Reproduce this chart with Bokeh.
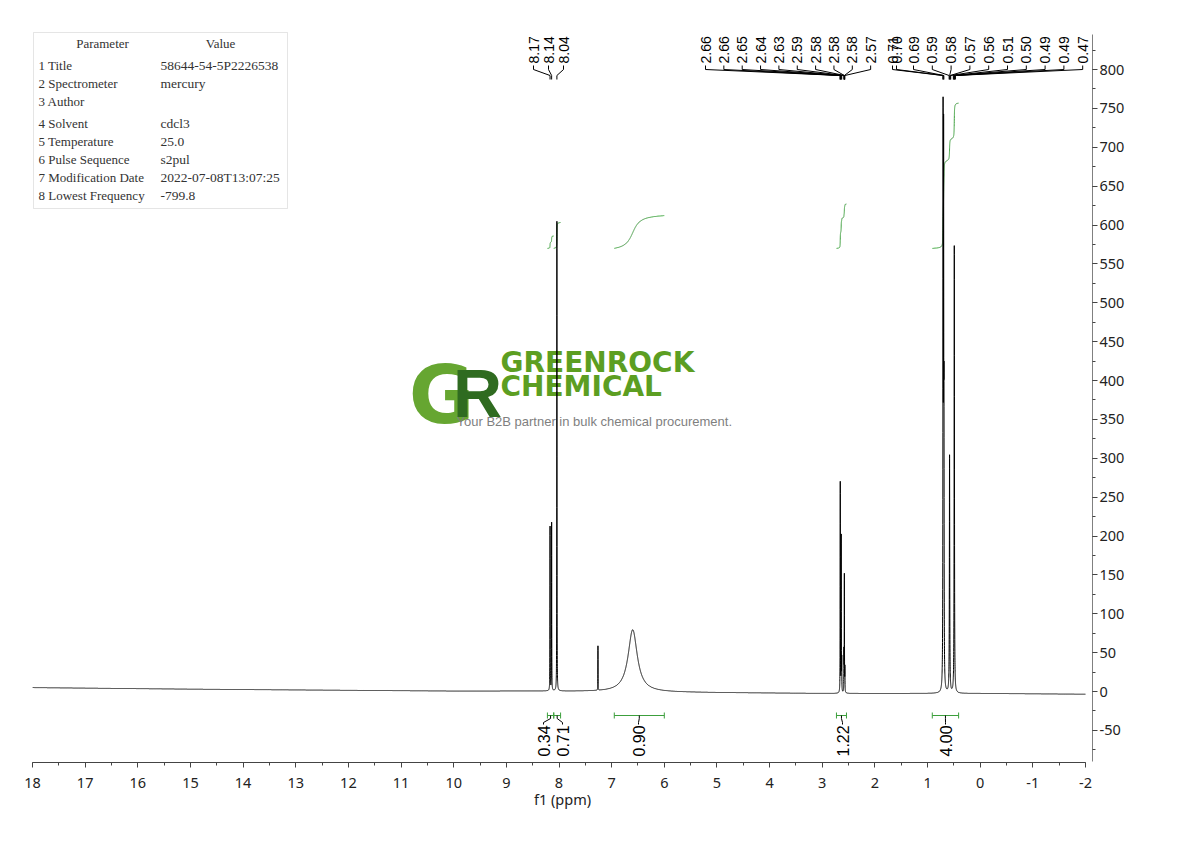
import numpy as np
from bokeh.plotting import figure
from bokeh.models import Range1d, SingleIntervalTicker, BoxAnnotation, PrintfTickFormatter
from bokeh.core.properties import value
from bokeh.embed import file_html
from bokeh.resources import INLINE

# ---------------- data ----------------
peak_ppm = [8.170, 8.140, 8.040, 7.260, 6.600,
            2.658, 2.640, 2.630, 2.588, 2.580, 2.570,
            0.705, 0.695, 0.688, 0.582, 0.492]
peak_height = [211, 216, 604, 57, 80,
               270, 200, 40, 50, 150, 30,
               705, 640, 300, 305, 575]
peak_fwhm = [0.004, 0.004, 0.004, 0.003, 0.21,
             0.004, 0.004, 0.004, 0.004, 0.004, 0.004,
             0.006, 0.006, 0.006, 0.008, 0.007]

baseline_ppm = [18, 15, 12, 10, 8.5, 5, 3, 0, -2]
baseline_val = [5, 3, 1.5, 0.5, 0.5, -1.5, -2.5, -2.5, -3.5]

top_labels_1 = ["8.17", "8.14", "8.04"]
top_labels_2 = ["2.66", "2.66", "2.65", "2.64", "2.63", "2.59", "2.58", "2.58", "2.58", "2.57",
                "0.71", "0.70",
                "0.69", "0.59", "0.58", "0.57", "0.56", "0.51", "0.50", "0.49", "0.49", "0.47"]

integral_from = [8.22, 8.10, 6.95, 2.73, 0.91]
integral_to = [8.10, 7.97, 6.00, 2.54, 0.41]
integral_value = [0.34, 0.71, 0.90, 1.22, 4.00]
integral_text = ["0.34", "0.71", "0.90", "1.22", "4.00"]

table_keys = ["1 Title", "2 Spectrometer", "3 Author", "4 Solvent", "5 Temperature",
              "6 Pulse Sequence", "7 Modification Date", "8 Lowest Frequency"]
table_values = ["58644-54-5P2226538", "mercury", "", "cdcl3", "25.0",
                "s2pul", "2022-07-08T13:07:25", "-799.8"]

# ---------------- layout (page pixels) ----------------
FRAME_LEFT = 32
FRAME_TOP = 30
FRAME_W = 1060
FRAME_H = 732
PX_PER_PPM = 52.65
ZERO_PY = 691
PX_PER_UNIT = 0.7775


def xpx(px):
    return 18 - (px - FRAME_LEFT) / PX_PER_PPM


def ypx(py):
    return (ZERO_PY - py) / PX_PER_UNIT


p = figure(frame_width=FRAME_W, frame_height=FRAME_H,
           x_range=Range1d(18, xpx(FRAME_LEFT + FRAME_W)),
           y_range=Range1d(ypx(FRAME_TOP + FRAME_H), ypx(FRAME_TOP)),
           y_axis_location="right", output_backend="svg", toolbar_location=None,
           min_border_left=FRAME_LEFT, min_border_top=FRAME_TOP,
           min_border_right=5, min_border_bottom=5)
p.grid.visible = False
p.outline_line_color = None
p.background_fill_color = "white"

# ---------------- watermark ----------------
p.text(x=[xpx(441)], y=[ypx(395)], text=["G"], text_align="center", text_baseline="alphabetic",
       text_font=value("DejaVu Sans"), text_font_style="bold", text_font_size="80px",
       text_color="#66a631")
p.text(x=[xpx(477)], y=[ypx(392)], text=["R"], text_align="center", text_baseline="alphabetic",
       text_font=value("Liberation Sans"), text_font_style="bold", text_font_size="68px",
       text_color="#2f6b20")
p.text(x=[xpx(500), xpx(500)], y=[ypx(362), ypx(386)], text=["GREENROCK", "CHEMICAL"],
       text_align="left", text_baseline="alphabetic",
       text_font=value("DejaVu Sans"), text_font_style="bold", text_font_size="28px",
       text_color="#5c9e22")
p.text(x=[xpx(456)], y=[ypx(421)], text=["Your B2B partner in bulk chemical procurement."],
       text_align="left", text_baseline="middle",
       text_font=value("Liberation Sans"), text_font_size="13px", text_color="#7f7f7f")

# ---------------- spectrum ----------------
ppm = np.linspace(18, -2, 40001)
base = np.interp(ppm, baseline_ppm[::-1], baseline_val[::-1])
inten = base.copy()
for c, h, w in zip(peak_ppm, peak_height, peak_fwhm):
    inten += h / (1 + ((ppm - c) / (w / 2)) ** 2)

# integrals
INT_BASE = 570
INT_SCALE = 46.7
GREEN = "#3c9f3c"
for a, b, v in zip(integral_from, integral_to, integral_value):
    m = (ppm <= a) & (ppm >= b)
    cum = np.cumsum(inten[m] - base[m])
    p.line(ppm[m], INT_BASE + cum / cum[-1] * v * INT_SCALE, line_color=GREEN, line_width=1)

p.line(ppm, inten, line_color="black", line_width=1)

# ---------------- peak labels (top) ----------------
lab1_px = [533, 548, 563]
lab2_px = [705 + 18.35 * i for i in range(10)] + [892, 896] + [913 + 18.8 * j for j in range(10)]
labels = top_labels_1 + top_labels_2
lab_px = lab1_px + lab2_px
p.text(x=[xpx(v) for v in lab_px], y=[ypx(63)] * len(labels), text=labels, angle=np.pi / 2,
       text_align="left", text_baseline="middle", text_font=value("Liberation Sans"),
       text_font_size="14px", text_color="black")
xs, ys = [], []
for t, lx in zip(labels, lab_px):
    pk = float(t)
    xs.append([xpx(lx), xpx(lx), pk, pk])
    ys.append([ypx(65), ypx(69), ypx(75), ypx(79)])
p.multi_line(xs, ys, line_color="black", line_width=1)

# ---------------- integral brackets (bottom) ----------------
int_lab_px = [543, 562, 638, 842, 945]
bx, by, cxs, cys = [], [], [], []
for a, b, lx in zip(integral_from, integral_to, int_lab_px):
    bx += [[a, a], [a, b], [b, b]]
    by += [[ypx(712), ypx(718)], [ypx(715), ypx(715)], [ypx(712), ypx(718)]]
    cxm = (a + b) / 2
    cxs.append([cxm, cxm, xpx(lx), xpx(lx)])
    cys.append([ypx(715), ypx(718), ypx(722), ypx(724)])
p.multi_line(bx, by, line_color=GREEN, line_width=1)
p.multi_line(cxs, cys, line_color="black", line_width=1)
p.text(x=[xpx(v) for v in int_lab_px], y=[ypx(756)] * len(integral_text), text=integral_text,
       angle=np.pi / 2, text_align="left", text_baseline="middle",
       text_font=value("Liberation Sans"), text_font_size="16px", text_color="black")

# ---------------- parameter table ----------------
p.add_layout(BoxAnnotation(left=xpx(33), right=xpx(287), top=ypx(32), bottom=ypx(208),
                           fill_alpha=0.0, line_color="#a8a8a8", line_width=1,
                           level="underlay"))
row_py = [65, 83, 101, 123, 141, 159, 177, 195]
tfont = value("Liberation Serif")
p.text(x=[xpx(102), xpx(220)], y=[ypx(43), ypx(43)], text=["Parameter", "Value"],
       text_align="center", text_baseline="middle", text_font=tfont,
       text_font_size="13px", text_color="#333333")
p.text(x=[xpx(38)] * len(table_keys), y=[ypx(v) for v in row_py], text=table_keys,
       text_align="left", text_baseline="middle", text_font=tfont,
       text_font_size="13px", text_color="#333333")
p.text(x=[xpx(160)] * len(table_values), y=[ypx(v) for v in row_py], text=table_values,
       text_align="left", text_baseline="middle", text_font=tfont,
       text_font_size="13.5px", text_color="#333333")

# ---------------- axes ----------------
p.xaxis.ticker = SingleIntervalTicker(interval=1, num_minor_ticks=2)
p.yaxis.ticker = SingleIntervalTicker(interval=50, num_minor_ticks=2)
p.xaxis.formatter = PrintfTickFormatter(format="%d")
p.yaxis.formatter = PrintfTickFormatter(format="%d")
p.xaxis.bounds = (-2, 18)
p.yaxis.bounds = (-90, 845)
p.xaxis.axis_label = "f1 (ppm)"
for ax in (p.xaxis, p.yaxis):
    ax.axis_line_color = "#444444"
    ax.major_tick_line_color = "#444444"
    ax.minor_tick_line_color = "#444444"
    ax.major_tick_in = 0
    ax.major_tick_out = 5
    ax.minor_tick_in = 0
    ax.minor_tick_out = 3
    ax.major_label_text_font = "Noto Sans"
    ax.major_label_text_font_size = "14.5px"
    ax.major_label_text_color = "#222222"
p.yaxis.axis_line_color = "#808080"
p.yaxis.major_label_standoff = 2
p.xaxis.major_label_standoff = 10
p.xaxis.axis_label_text_font = "Noto Sans"
p.xaxis.axis_label_text_font_size = "14.5px"
p.xaxis.axis_label_text_font_style = "normal"
p.xaxis.axis_label_text_color = "#222222"
p.xaxis.axis_label_standoff = -2

open("out.html", "w").write(file_html(p, INLINE))
